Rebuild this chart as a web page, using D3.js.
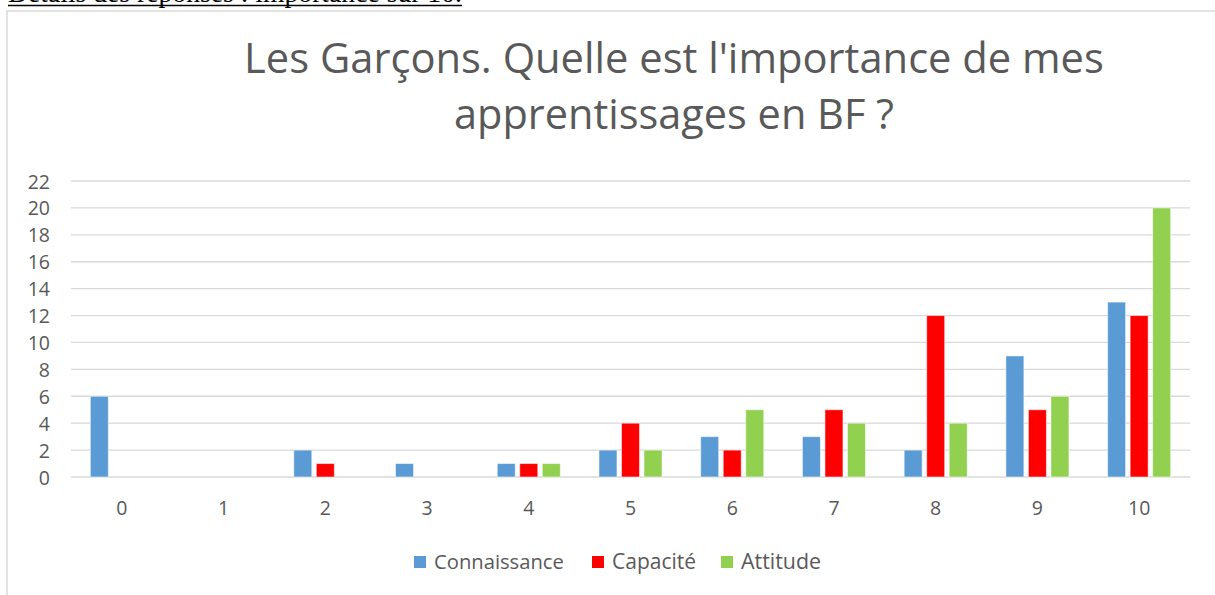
<!DOCTYPE html>
<html>
<head>
<meta charset="utf-8">
<script src="https://cdn.jsdelivr.net/npm/d3@7"></script>
<style>
  html, body { margin: 0; padding: 0; background: #fff; }
  svg { display: block; }
</style>
</head>
<body>
<svg id="chart" width="1215" height="595"></svg>
<script>
const categories = ["0","1","2","3","4","5","6","7","8","9","10"];
const seriesNames = ["Connaissance","Capacité","Attitude"];
const connaissance = [6,0,2,1,1,2,3,3,2,9,13];
const capacite     = [0,0,1,0,1,4,2,5,12,5,12];
const attitude     = [0,0,0,0,1,2,5,4,4,6,20];
const yTicks = [0,2,4,6,8,10,12,14,16,18,20,22];
const titleLines = ["Les Garçons. Quelle est l'importance de mes", "apprentissages en BF ?"];
const headerText = "Détails des réponses : importance sur 10.";
const colors = ["#5B9BD5", "#FF0000", "#92D050"];

(function () {
const seriesValues = [connaissance, capacite, attitude];
const svg = d3.select("#chart");
const font = "'Open Sans', 'Noto Sans', sans-serif";
const textColor = "#595959";

function fitWidth(sel, target) {
  const node = sel.node();
  const fs = parseFloat(sel.attr("font-size"));
  const w = node.getComputedTextLength();
  if (w > 0) sel.attr("font-size", (fs * target / w).toFixed(2));
}

// header text above chart (cut off at top)
svg.append("text")
  .attr("x", 8).attr("y", 2)
  .attr("font-family", "'Liberation Serif', 'Times New Roman', serif")
  .attr("font-size", 19)
  .attr("fill", "#000")
  .text(headerText)
  .call(s => fitWidth(s, 454));
svg.append("line")
  .attr("x1", 8).attr("x2", 462).attr("y1", 5.5).attr("y2", 5.5)
  .attr("stroke", "#000").attr("stroke-width", 1.3);

// chart frame
svg.append("path")
  .attr("d", "M7,600 L7,11 L1220,11")
  .attr("fill", "none").attr("stroke", "#d9d9d9").attr("stroke-width", 1.5);

// title
const tl = [73, 129];
titleLines.forEach((t, i) => {
  svg.append("text")
    .attr("x", 674).attr("y", tl[i])
    .attr("text-anchor", "middle")
    .attr("font-family", font)
    .attr("font-size", 40)
    .attr("fill", textColor)
    .text(t)
    .call(s => fitWidth(s, i === 0 ? 860 : 440));
});

const pLeft = 71, pRight = 1190, pTop = 181, pBottom = 477;
const y = d3.scaleLinear().domain([0, 22]).range([pBottom, pTop]);
const x0 = d3.scaleBand().domain(categories).range([pLeft, pRight]).paddingInner(0.38).paddingOuter(0.19);
const x1 = d3.scaleBand().domain(seriesNames).range([0, x0.bandwidth()]).paddingInner(0.2);

// gridlines
svg.append("g")
  .selectAll("line").data(yTicks).join("line")
  .attr("x1", pLeft).attr("x2", pRight)
  .attr("y1", d => y(d)).attr("y2", d => y(d))
  .attr("stroke", "#d9d9d9").attr("stroke-width", 1.3);

// y axis labels
const yAxis = d3.axisLeft(y).tickValues(yTicks).tickSize(0).tickPadding(0);
const gy = svg.append("g").attr("transform", "translate(50,0)").call(yAxis);
gy.select(".domain").remove();
gy.selectAll("text")
  .attr("font-family", font).attr("font-size", 19.5)
  .attr("fill", textColor).attr("dy", "0.36em");

// x axis labels
const xAxis = d3.axisBottom(x0).tickSize(0).tickPadding(0);
const gx = svg.append("g").attr("transform", "translate(0,508)").call(xAxis);
gx.select(".domain").remove();
gx.selectAll("text")
  .attr("font-family", font).attr("font-size", 19.5)
  .attr("fill", textColor).attr("dy", "0.36em");

// bars
const data = [];
categories.forEach((c, ci) => {
  seriesNames.forEach((s, si) => {
    data.push({ cat: c, series: s, value: seriesValues[si][ci], color: colors[si] });
  });
});
svg.append("g")
  .selectAll("rect").data(data.filter(d => d.value > 0)).join("rect")
  .attr("x", d => x0(d.cat) + x1(d.series))
  .attr("width", x1.bandwidth())
  .attr("y", d => y(d.value))
  .attr("height", d => y(0) - y(d.value))
  .attr("fill", d => d.color)
  .attr("stroke", "rgba(255,255,255,0.55)")
  .attr("stroke-width", 1);

// legend
const legendX = [414, 592, 721];
const legendW = [130, 84, 80];
seriesNames.forEach((s, i) => {
  svg.append("rect")
    .attr("x", legendX[i]).attr("y", 556)
    .attr("width", 12).attr("height", 12)
    .attr("fill", colors[i]);
  svg.append("text")
    .attr("x", legendX[i] + 20).attr("y", 569)
    .attr("font-family", font).attr("font-size", 19)
    .attr("fill", textColor)
    .text(s)
    .call(t => fitWidth(t, legendW[i]));
});
})();
</script>
</body>
</html>
